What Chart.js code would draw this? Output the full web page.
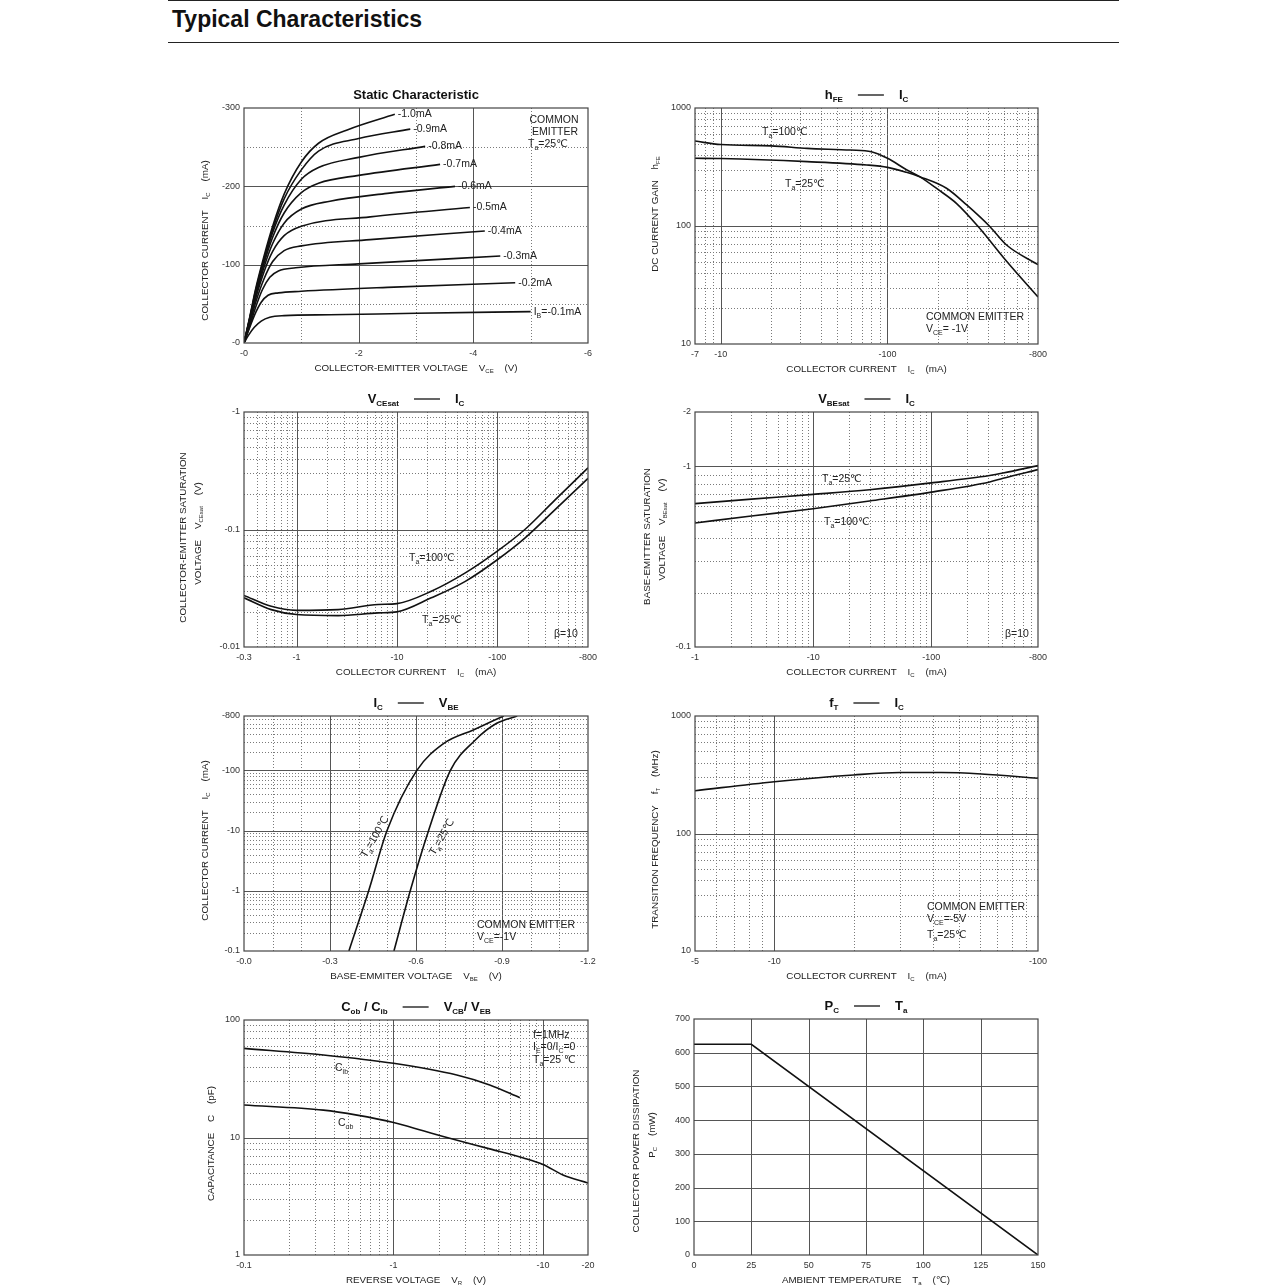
<!DOCTYPE html>
<html>
<head>
<meta charset="utf-8">
<script src="https://cdn.jsdelivr.net/npm/chart.js@4.4.0/dist/chart.umd.min.js"></script>
<style>
  body { margin: 0; background: #fff; width: 1287px; height: 1287px; position: relative; overflow: hidden;
         font-family: "Liberation Sans", Arial, sans-serif; }
  #head { position: absolute; left: 168px; top: 0; width: 951px; height: 43px; box-sizing: border-box;
          border-top: 1.5px solid #222; border-bottom: 1.5px solid #222; }
  #head h1 { margin: 0; position: absolute; left: 4px; top: 5px; font-size: 23px; font-weight: bold; color: #111; }
  canvas { position: absolute; }
</style>
</head>
<body>
<div id="head"><h1>Typical Characteristics</h1></div>
<canvas id="cStatic"></canvas>
<canvas id="cHfe"></canvas>
<canvas id="cVce"></canvas>
<canvas id="cVbe"></canvas>
<canvas id="cIcVbe"></canvas>
<canvas id="cFt"></canvas>
<canvas id="cCap"></canvas>
<canvas id="cPc"></canvas>
<script>
const FONT = '"Liberation Sans", Arial, "DejaVu Sans", sans-serif';

// ---- data (magnitudes, the sheet prints them negative) ----

// Static characteristic, one curve per base current
const ibLabels = ['I_{B}=-0.1mA', '-0.2mA', '-0.3mA', '-0.4mA', '-0.5mA', '-0.6mA', '-0.7mA', '-0.8mA', '-0.9mA', '-1.0mA'];
const staticVce = [
  [0, 0.08, 0.18, 0.3, 0.45, 0.7, 1.5, 3, 5.0],
  [0, 0.08, 0.18, 0.3, 0.42, 0.6, 1.0, 2.5, 4.73],
  [0, 0.1, 0.2, 0.32, 0.45, 0.6, 0.9, 2, 4.47],
  [0, 0.1, 0.2, 0.35, 0.5, 0.7, 1.0, 2.2, 4.2],
  [0, 0.1, 0.2, 0.35, 0.5, 0.7, 1.0, 2.2, 3.94],
  [0, 0.1, 0.2, 0.35, 0.5, 0.7, 1.0, 1.5, 2.5, 3.68],
  [0, 0.1, 0.2, 0.35, 0.5, 0.7, 1.0, 1.3, 2.0, 3.42],
  [0, 0.1, 0.2, 0.35, 0.5, 0.7, 1.0, 1.3, 2.0, 3.16],
  [0, 0.1, 0.2, 0.35, 0.5, 0.7, 1.0, 1.3, 2.0, 2.9],
  [0, 0.1, 0.2, 0.35, 0.5, 0.7, 1.0, 1.3, 1.8, 2.63]
];
const staticIc = [
  [0, 10, 20, 28, 33, 35, 36, 38, 40],
  [0, 16, 35, 52, 61, 64, 66, 71, 77],
  [0, 22, 45, 68, 84, 92, 96, 101, 111],
  [0, 25, 51, 82, 104, 118, 124, 132, 143],
  [0, 27, 56, 91, 117, 137, 149, 161, 173],
  [0, 29, 59, 97, 127, 153, 171, 181, 191, 200],
  [0, 30, 62, 102, 135, 166, 192, 204, 214, 228],
  [0, 31, 64, 105, 141, 176, 209, 224, 237, 251],
  [0, 32, 66, 108, 145, 184, 221, 245, 261, 273],
  [0, 33, 68, 111, 149, 190, 231, 255, 272, 292]
];
const staticXTicks = [0, 2, 4, 6];
const staticXLabels = ['-0', '-2', '-4', '-6'];
const staticYTicks = [0, 100, 200, 300];
const staticYLabels = ['-0', '-100', '-200', '-300'];

// hFE - Ic
const hfeIc100 = [7, 10, 20, 33, 60, 80, 100, 130, 156, 200, 260, 350, 520, 800];
const hfeGain100 = [525, 490, 478, 455, 440, 426, 375, 300, 262, 205, 155, 99, 50, 25];
const hfeIc25 = [7, 10, 33, 75, 100, 130, 156, 226, 300, 411, 518, 800];
const hfeGain25 = [375, 373, 351, 329, 314, 285, 262, 209, 150, 99, 69, 47];
const hfeXTicks = [7, 10, 100, 800];
const hfeXLabels = ['-7', '-10', '-100', '-800'];
const hfeYTicks = [10, 100, 1000];
const hfeYLabels = ['10', '100', '1000'];

// VCEsat - Ic
const vceIc = [0.3, 0.56, 1, 2.6, 6.5, 10, 22, 48, 100, 188, 374, 800];
const vceSat100 = [0.0275, 0.0222, 0.0205, 0.0208, 0.0230, 0.0234, 0.0298, 0.0427, 0.0654, 0.1, 0.178, 0.335];
const vceSat25 = [0.0262, 0.0208, 0.0189, 0.0185, 0.0195, 0.0199, 0.0262, 0.0362, 0.0553, 0.0845, 0.147, 0.272];
const vceXTicks = [0.3, 1, 10, 100, 800];
const vceXLabels = ['-0.3', '-1', '-10', '-100', '-800'];
const vceYTicks = [0.01, 0.1, 1];
const vceYLabels = ['-0.01', '-0.1', '-1'];

// VBEsat - Ic
const vbeIc = [1, 3, 10, 30, 100, 312, 405, 800];
const vbeSat25 = [0.622, 0.659, 0.70, 0.743, 0.81, 0.89, 0.918, 1.01];
const vbeSat100 = [0.486, 0.531, 0.583, 0.643, 0.72, 0.82, 0.86, 0.96];
const vbeXTicks = [1, 10, 100, 800];
const vbeXLabels = ['-1', '-10', '-100', '-800'];
const vbeYTicks = [0.1, 1, 2];
const vbeYLabels = ['-0.1', '-1', '-2'];

// Ic - VBE
const icVbe100 = [0.366, 0.435, 0.499, 0.603, 0.697, 0.80, 0.906];
const icCur100 = [0.1, 1, 10, 100, 280, 470, 800];
const icVbe25 = [0.523, 0.580, 0.644, 0.72, 0.807, 0.88, 0.953];
const icCur25 = [0.1, 1, 10, 100, 320, 600, 800];
const icXTicks = [0, 0.3, 0.6, 0.9, 1.2];
const icXLabels = ['-0.0', '-0.3', '-0.6', '-0.9', '-1.2'];
const icYTicks = [0.1, 1, 10, 100, 800];
const icYLabels = ['-0.1', '-1', '-10', '-100', '-800'];

// fT - Ic
const ftIc = [5, 10, 20, 30, 43, 61, 100];
const ftFreq = [231, 276, 315, 330, 330, 321, 295];
const ftXTicks = [5, 10, 100];
const ftXLabels = ['-5', '-10', '-100'];
const ftYTicks = [10, 100, 1000];
const ftYLabels = ['10', '100', '1000'];

// Cob / Cib - reverse voltage
const cibV = [0.1, 0.34, 1, 2.65, 4.4, 7.0];
const cibC = [57.4, 50.4, 42.8, 34, 28, 21.8];
const cobV = [0.1, 0.34, 0.57, 1, 1.58, 2.15, 4.4, 7.4, 10, 13.6, 20];
const cobC = [18.9, 17.1, 15.5, 13.4, 11.4, 10.2, 8.0, 6.7, 5.9, 4.8, 4.1];
const capXTicks = [0.1, 1, 10, 20];
const capXLabels = ['-0.1', '-1', '-10', '-20'];
const capYTicks = [1, 10, 100];
const capYLabels = ['1', '10', '100'];

// Pc - Ta
const pcTemp = [0, 25, 150];
const pcPower = [625, 625, 0];
const pcXTicks = [0, 25, 50, 75, 100, 125, 150];
const pcXLabels = ['0', '25', '50', '75', '100', '125', '150'];
const pcYTicks = [0, 100, 200, 300, 400, 500, 600, 700];
const pcYLabels = ['0', '100', '200', '300', '400', '500', '600', '700'];

// ---- helpers ----

// dotted lines at 2..9 of each decade strictly inside (from, to)
function logMinor(from, to) {
  const out = [];
  for (let e = -3; e <= 4; e++) {
    for (let k = 2; k <= 9; k++) {
      const v = +(k * Math.pow(10, e)).toPrecision(3);
      if (v > from && v < to) out.push(v);
    }
  }
  return out;
}

// text with _{sub} parts and ~ for the long title dash
function parseRich(str) {
  const out = [];
  const re = /_\{([^}]*)\}|~/g;
  let last = 0, m;
  while ((m = re.exec(str))) {
    if (m.index > last) out.push({t: str.slice(last, m.index)});
    if (m[0] === '~') out.push({dash: true});
    else out.push({t: m[1], sub: true});
    last = re.lastIndex;
  }
  if (last < str.length) out.push({t: str.slice(last)});
  return out;
}

function drawRich(ctx, str, x, y, o = {}) {
  const size = o.size || 10;
  const weight = o.bold ? 'bold ' : '';
  const fMain = weight + size + 'px ' + FONT;
  const fSub = weight + Math.round(size * 0.62) + 'px ' + FONT;
  const parts = parseRich(str);
  let w = 0;
  parts.forEach(p => {
    if (p.dash) p.w = 56;
    else { ctx.font = p.sub ? fSub : fMain; p.w = ctx.measureText(p.t).width; }
    w += p.w;
  });
  ctx.save();
  ctx.translate(x, y);
  if (o.rot) ctx.rotate(o.rot * Math.PI / 180);
  let cx = o.align === 'left' ? 0 : -w / 2;
  ctx.fillStyle = o.color || '#222';
  ctx.strokeStyle = ctx.fillStyle;
  ctx.textBaseline = 'middle';
  ctx.textAlign = 'left';
  parts.forEach(p => {
    if (p.dash) {
      ctx.lineWidth = 1.3;
      ctx.beginPath();
      ctx.moveTo(cx + 15, 0);
      ctx.lineTo(cx + 41, 0);
      ctx.stroke();
    } else {
      ctx.font = p.sub ? fSub : fMain;
      ctx.fillText(p.t, cx, p.sub ? size * 0.38 : 0);
    }
    cx += p.w;
  });
  ctx.restore();
}

const panels = {};

// grid, frame, titles and notes for every panel
const panelPlugin = {
  id: 'panel',
  beforeDatasetsDraw(chart) {
    const p = panels[chart.canvas.id];
    const {ctx, chartArea: a, scales: {x, y}} = chart;
    ctx.save();
    const stroke = (x1, y1, x2, y2, major) => {
      ctx.beginPath();
      ctx.lineWidth = 1;
      ctx.strokeStyle = major ? '#555' : '#7a7a7a';
      ctx.setLineDash(major ? [] : [1, 2]);
      ctx.moveTo(x1, y1);
      ctx.lineTo(x2, y2);
      ctx.stroke();
    };
    [[p.gx.minor, false], [p.gx.major, true]].forEach(([vals, major]) => {
      vals.forEach(v => {
        const px = Math.round(x.getPixelForValue(v)) + 0.5;
        stroke(px, a.top, px, a.bottom, major);
      });
    });
    [[p.gy.minor, false], [p.gy.major, true]].forEach(([vals, major]) => {
      vals.forEach(v => {
        const py = Math.round(y.getPixelForValue(v)) + 0.5;
        stroke(a.left, py, a.right, py, major);
      });
    });
    ctx.restore();
  },
  afterDatasetsDraw(chart) {
    const p = panels[chart.canvas.id];
    const {ctx, chartArea: a} = chart;
    ctx.save();
    ctx.strokeStyle = '#444';
    ctx.lineWidth = 1.2;
    ctx.setLineDash([]);
    ctx.strokeRect(a.left, a.top, a.right - a.left, a.bottom - a.top);
    ctx.restore();

    const midX = (a.left + a.right) / 2;
    const midY = (a.top + a.bottom) / 2;
    drawRich(ctx, p.title, midX, a.top - 13, {size: 13, bold: true, color: '#111'});
    drawRich(ctx, p.xTitle, midX, a.bottom + 25, {size: 9.8});
    p.yTitles.forEach(t => drawRich(ctx, t.t, a.left + t.dx, midY + t.dy, {size: 9.8, rot: -90}));
    (p.notes || []).forEach(n => drawRich(ctx, n.t, a.left + n.dx, a.top + n.dy,
      {size: 10.5, align: n.align || 'left', rot: n.rot}));

    if (p.endLabels) {
      chart.data.datasets.forEach((ds, i) => {
        const pts = chart.getDatasetMeta(i).data;
        const last = pts[pts.length - 1];
        drawRich(ctx, ds.label, last.x + 3, last.y, {size: 10.5, align: 'left'});
      });
    }
  }
};

function axis(dir, type, min, max, ticks, labels) {
  return {
    type: type,
    min: min,
    max: max,
    bounds: 'data',
    grid: {display: false, drawTicks: false},
    border: {display: false},
    ticks: {
      autoSkip: false,
      maxRotation: 0,
      padding: dir === 'x' ? 5 : 4,
      color: '#333',
      font: {size: 9, family: FONT},
      callback: (v, i) => labels[i]
    },
    afterBuildTicks: s => { s.ticks = ticks.map(v => ({value: v})); },
    afterFit: s => { if (dir === 'x') s.height = 16; else s.width = 40; }
  };
}

function series(label, xs, ys) {
  return {
    label: label,
    data: xs.map((v, i) => ({x: v, y: ys[i]})),
    showLine: true,
    borderColor: '#111',
    borderWidth: 1.6,
    pointRadius: 0,
    fill: false,
    cubicInterpolationMode: 'monotone'
  };
}

// area = plot rectangle on the page
function build(id, area, p, xAxis, yAxis, datasets) {
  const cv = document.getElementById(id);
  const w = area.w + 105, h = area.h + 80;
  cv.width = w; cv.height = h;
  cv.style.width = w + 'px'; cv.style.height = h + 'px';
  cv.style.left = (area.x - 85) + 'px';
  cv.style.top = (area.y - 35) + 'px';
  panels[id] = p;
  new Chart(cv, {
    type: 'scatter',
    data: {datasets: datasets},
    options: {
      responsive: false,
      animation: false,
      devicePixelRatio: 1,
      events: [],
      layout: {padding: {left: 45, top: 35, right: 20, bottom: 29}},
      plugins: {legend: {display: false}, tooltip: {enabled: false}},
      scales: {x: xAxis, y: yAxis}
    },
    plugins: [panelPlugin]
  });
}

// ---- panels ----

build('cStatic', {x: 244, y: 108, w: 344, h: 235}, {
  title: 'Static Characteristic',
  xTitle: 'COLLECTOR-EMITTER VOLTAGE    V_{CE}    (V)',
  yTitles: [{t: 'COLLECTOR CURRENT    I_{C}    (mA)', dx: -39, dy: 15}],
  gx: {major: [2, 4], minor: [1, 3, 5]},
  gy: {major: [100, 200], minor: [50, 150, 250]},
  endLabels: true,
  notes: [
    {t: 'COMMON', dx: 310, dy: 12, align: 'center'},
    {t: 'EMITTER', dx: 311, dy: 24, align: 'center'},
    {t: 'T_{a}=25℃', dx: 304, dy: 36, align: 'center'}
  ]
}, axis('x', 'linear', 0, 6, staticXTicks, staticXLabels),
   axis('y', 'linear', 0, 300, staticYTicks, staticYLabels),
   ibLabels.map((lb, i) => series(lb, staticVce[i], staticIc[i])));

build('cHfe', {x: 695, y: 108, w: 343, h: 236}, {
  title: 'h_{FE}~I_{C}',
  xTitle: 'COLLECTOR CURRENT    I_{C}    (mA)',
  yTitles: [{t: 'DC CURRENT GAIN    h_{FE}', dx: -40, dy: -12}],
  gx: {major: [10, 100], minor: logMinor(7, 800)},
  gy: {major: [100], minor: logMinor(10, 1000)},
  notes: [
    {t: 'T_{a}=100℃', dx: 67, dy: 24},
    {t: 'T_{a}=25℃', dx: 90, dy: 76},
    {t: 'COMMON EMITTER', dx: 231, dy: 209},
    {t: 'V_{CE}= -1V', dx: 231, dy: 221}
  ]
}, axis('x', 'logarithmic', 7, 800, hfeXTicks, hfeXLabels),
   axis('y', 'logarithmic', 10, 1000, hfeYTicks, hfeYLabels),
   [series('Ta=100', hfeIc100, hfeGain100), series('Ta=25', hfeIc25, hfeGain25)]);

build('cVce', {x: 244, y: 412, w: 344, h: 235}, {
  title: 'V_{CEsat}~I_{C}',
  xTitle: 'COLLECTOR CURRENT    I_{C}    (mA)',
  yTitles: [
    {t: 'COLLECTOR-EMITTER SATURATION', dx: -61, dy: 8},
    {t: 'VOLTAGE    V_{CEsat}    (V)', dx: -46, dy: 4}
  ],
  gx: {major: [1, 10, 100], minor: logMinor(0.3, 800)},
  gy: {major: [0.1], minor: logMinor(0.01, 1)},
  notes: [
    {t: 'T_{a}=100℃', dx: 165, dy: 146},
    {t: 'T_{a}=25℃', dx: 178, dy: 208},
    {t: 'β=10', dx: 310, dy: 222}
  ]
}, axis('x', 'logarithmic', 0.3, 800, vceXTicks, vceXLabels),
   axis('y', 'logarithmic', 0.01, 1, vceYTicks, vceYLabels),
   [series('Ta=100', vceIc, vceSat100), series('Ta=25', vceIc, vceSat25)]);

build('cVbe', {x: 695, y: 412, w: 343, h: 235}, {
  title: 'V_{BEsat}~I_{C}',
  xTitle: 'COLLECTOR CURRENT    I_{C}    (mA)',
  yTitles: [
    {t: 'BASE-EMITTER SATURATION', dx: -48, dy: 7},
    {t: 'VOLTAGE    V_{BEsat}    (V)', dx: -33, dy: 0}
  ],
  gx: {major: [10, 100], minor: logMinor(1, 800)},
  gy: {major: [1], minor: logMinor(0.1, 2)},
  notes: [
    {t: 'T_{a}=25℃', dx: 127, dy: 67},
    {t: 'T_{a}=100℃', dx: 129, dy: 110},
    {t: 'β=10', dx: 310, dy: 222}
  ]
}, axis('x', 'logarithmic', 1, 800, vbeXTicks, vbeXLabels),
   axis('y', 'logarithmic', 0.1, 2, vbeYTicks, vbeYLabels),
   [series('Ta=25', vbeIc, vbeSat25), series('Ta=100', vbeIc, vbeSat100)]);

build('cIcVbe', {x: 244, y: 716, w: 344, h: 235}, {
  title: 'I_{C}~V_{BE}',
  xTitle: 'BASE-EMMITER VOLTAGE    V_{BE}    (V)',
  yTitles: [{t: 'COLLECTOR CURRENT    I_{C}    (mA)', dx: -39, dy: 7}],
  gx: {major: [0.3, 0.6, 0.9], minor: [0.1, 0.2, 0.4, 0.5, 0.7, 0.8, 1.0, 1.1]},
  gy: {major: [1, 10, 100], minor: logMinor(0.1, 800)},
  notes: [
    {t: 'T_{a}=100℃', dx: 131, dy: 121, align: 'center', rot: -60},
    {t: 'T_{a}=25℃', dx: 198, dy: 121, align: 'center', rot: -60},
    {t: 'COMMON EMITTER', dx: 233, dy: 209},
    {t: 'V_{CE}=-1V', dx: 233, dy: 221}
  ]
}, axis('x', 'linear', 0, 1.2, icXTicks, icXLabels),
   axis('y', 'logarithmic', 0.1, 800, icYTicks, icYLabels),
   [series('Ta=100', icVbe100, icCur100), series('Ta=25', icVbe25, icCur25)]);

build('cFt', {x: 695, y: 716, w: 343, h: 235}, {
  title: 'f_{T}~I_{C}',
  xTitle: 'COLLECTOR CURRENT    I_{C}    (mA)',
  yTitles: [{t: 'TRANSITION FREQUENCY    f_{T}    (MHz)', dx: -40, dy: 6}],
  gx: {major: [10], minor: logMinor(5, 100)},
  gy: {major: [100], minor: logMinor(10, 1000)},
  notes: [
    {t: 'COMMON EMITTER', dx: 232, dy: 191},
    {t: 'V_{CE}=-5V', dx: 232, dy: 203},
    {t: 'T_{a}=25℃', dx: 232, dy: 219}
  ]
}, axis('x', 'logarithmic', 5, 100, ftXTicks, ftXLabels),
   axis('y', 'logarithmic', 10, 1000, ftYTicks, ftYLabels),
   [series('fT', ftIc, ftFreq)]);

build('cCap', {x: 244, y: 1020, w: 344, h: 235}, {
  title: 'C_{ob} / C_{ib}~V_{CB}/ V_{EB}',
  xTitle: 'REVERSE VOLTAGE    V_{R}    (V)',
  yTitles: [{t: 'CAPACITANCE    C    (pF)', dx: -33, dy: 6}],
  gx: {major: [1, 10], minor: logMinor(0.1, 20)},
  gy: {major: [10], minor: logMinor(1, 100)},
  notes: [
    {t: 'C_{ib}', dx: 91, dy: 48},
    {t: 'C_{ob}', dx: 94, dy: 103},
    {t: 'f=1MHz', dx: 289, dy: 15},
    {t: 'I_{E}=0/I_{C}=0', dx: 289, dy: 27},
    {t: 'T_{a}=25 ℃', dx: 289, dy: 40}
  ]
}, axis('x', 'logarithmic', 0.1, 20, capXTicks, capXLabels),
   axis('y', 'logarithmic', 1, 100, capYTicks, capYLabels),
   [series('Cib', cibV, cibC), series('Cob', cobV, cobC)]);

build('cPc', {x: 694, y: 1019, w: 344, h: 236}, {
  title: 'P_{C}~T_{a}',
  xTitle: 'AMBIENT TEMPERATURE    T_{a}    (℃)',
  yTitles: [
    {t: 'COLLECTOR POWER DISSIPATION', dx: -58, dy: 14},
    {t: 'P_{C}    (mW)', dx: -42, dy: -2}
  ],
  gx: {major: [25, 50, 75, 100, 125], minor: []},
  gy: {major: [100, 200, 300, 400, 500, 600], minor: []}
}, axis('x', 'linear', 0, 150, pcXTicks, pcXLabels),
   axis('y', 'linear', 0, 700, pcYTicks, pcYLabels),
   [Object.assign(series('Pc', pcTemp, pcPower), {cubicInterpolationMode: 'default', tension: 0})]);
</script>
</body>
</html>
